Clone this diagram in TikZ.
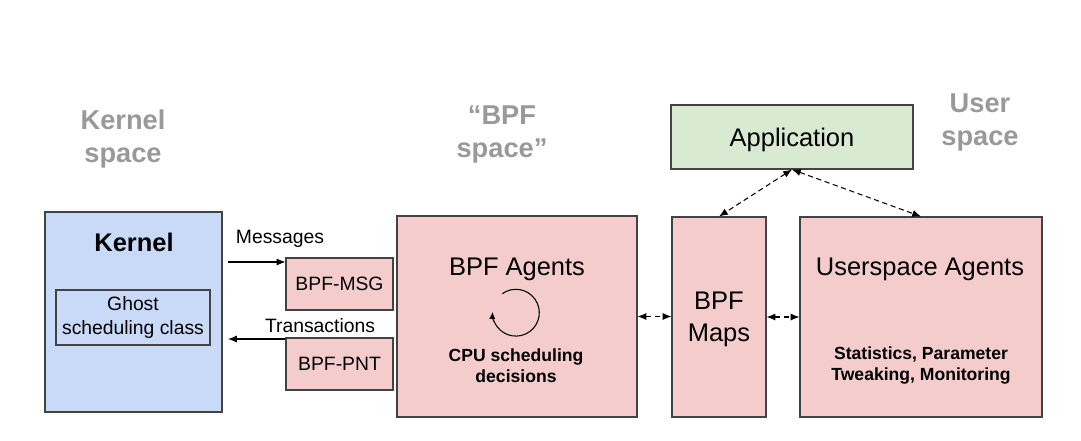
\documentclass[tikz,border=0pt]{standalone}
\usepackage{fontspec}
\setmainfont{Liberation Sans}
\usepackage{tikz}
\usetikzlibrary{arrows.meta}
\definecolor{kblue}{HTML}{C9DAF8}
\definecolor{bpfred}{HTML}{F4CCCC}
\definecolor{appgreen}{HTML}{D9EAD3}
\definecolor{edge}{HTML}{434343}
\definecolor{grey}{HTML}{999999}

\begin{document}
\begin{tikzpicture}[x=0.02cm,y=-0.02cm,
    box/.style={draw=edge, line width=0.6pt, inner sep=0pt},
    big/.style={font=\fontsize{14.5}{18}\selectfont, align=center, text depth=0pt},
    small/.style={font=\fontsize{11}{13.6}\selectfont, align=center},
    note/.style={font=\bfseries\fontsize{10}{12}\selectfont, align=center},
    side/.style={text=grey, font=\bfseries\fontsize{15.5}{18.9}\selectfont, align=center, text depth=0pt},
    flow/.style={line width=0.6pt, ->, >={Latex[length=5pt,width=4pt]}},
    link/.style={line width=0.6pt, dash pattern=on 3pt off 2pt, <->, >={Latex[length=5pt,width=4pt]}}]
    \useasboundingbox (0,0) rectangle (1081,440);
    % the three spaces
    \node (kspace) [side] at (123,136.5) {Kernel\\space};
    \node (bspace) [side] at (502,131.5) {“BPF\\space”};
    \node (uspace) [side] at (980,119.5) {User\\space};
    % kernel side
    \node (kernel) [box, fill=kblue, minimum width=177*0.02cm, minimum height=200*0.02cm] at (133.5,312) {};
    \node (ktitle) [font=\bfseries\fontsize{14.5}{18}\selectfont] at (134,242) {Kernel};
    \node (ghost) [box, fill=kblue, minimum width=154*0.02cm, minimum height=55*0.02cm, small] at (133,317.5) {Ghost\\scheduling class};
    % message queues
    \node (msg) [box, fill=bpfred, minimum width=107*0.02cm, minimum height=52*0.02cm, small] at (339.5,284) {BPF-MSG};
    \node (pnt) [box, fill=bpfred, minimum width=107*0.02cm, minimum height=52*0.02cm, small] at (339.5,364) {BPF-PNT};
    \coordinate (msgfrom) at (228,262);
    \coordinate (pntto) at (228,339);
    \draw [flow] (msgfrom) -- (msgfrom -| msg.west);
    \draw [flow] (pntto -| pnt.west) -- (pntto);
    \node (msglabel) [small] at (280,238.5) {Messages};
    \node (pntlabel) [small] at (320,326) {Transactions};
    % bpf agents
    \node (agents) [box, fill=bpfred, minimum width=240*0.02cm, minimum height=201*0.02cm] at (517,316.5) {};
    \node (atitle) [big] at (517,267) {BPF Agents};
    \coordinate (spin) at (515.9,312.7);
    \draw [line width=0.6pt, ->, >={Latex[length=4pt,width=3.5pt]}] (spin) ++(126:0.468cm) arc [start angle=126, end angle=-182, radius=0.468cm];
    \node (cpu) [note] at (516,365.5) {CPU scheduling\\decisions};
    % maps and userspace
    \node (maps) [box, fill=bpfred, minimum width=94*0.02cm, minimum height=200*0.02cm, big] at (719,317) {BPF\\Maps};
    \node (user) [box, fill=bpfred, minimum width=242*0.02cm, minimum height=200*0.02cm] at (921,317) {};
    \node (utitle) [big] at (920,267) {Userspace Agents};
    \node (stats) [note] at (921,365.5) {Statistics, Parameter\\Tweaking, Monitoring};
    \node (app) [box, fill=appgreen, minimum width=242*0.02cm, minimum height=64*0.02cm, big] at (792,137) {Application};
    % links
    \draw [link] (agents.east) -- (agents.east -| maps.west);
    \draw [link] (maps.east) -- (maps.east -| user.west);
    \draw [link] (app.south) -- (maps.north);
    \draw [link] (app.south) -- (user.north);
\end{tikzpicture}
\end{document}
